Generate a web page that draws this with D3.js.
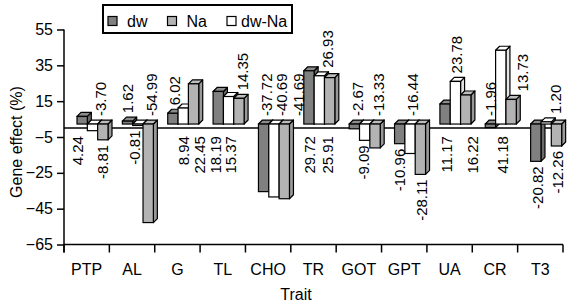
<!DOCTYPE html>
<html><head><meta charset="utf-8">
<script src="https://cdn.jsdelivr.net/npm/d3@7"></script>
<style>
html,body{margin:0;padding:0;background:#fff;}
svg text{font-family:"Liberation Sans",Arial,sans-serif;fill:#000;}
</style></head>
<body><svg id="chart" width="573" height="303"></svg>
<script>
// ---- data ----
const categories = ["PTP","AL","G","TL","CHO","TR","GOT","GPT","UA","CR","T3"];
const seriesNames = ["dw","dw-Na","Na"];
const dwValues   = [4.24, 1.62, 6.02, 18.19, -37.72, 29.72, -2.67, -10.96, 11.17, -1.96, -20.82];
const dwNaValues = [-3.70, -0.81, 8.94, 15.37, -40.69, 26.93, -9.09, -16.44, 23.78, 41.18, 1.20];
const naValues   = [-8.81, -54.99, 22.45, 14.35, -41.69, 25.91, -13.33, -28.11, 16.22, 13.73, -12.26];
const yTicks = [-65, -45, -25, -5, 15, 35, 55];
const yTitle = "Gene effect (%)";
const xTitle = "Trait";

// ---- layout / style config (not data) ----
const labelMode = [
  ["B","B","E"],["E","E","B"],["E","B","B"],["B","B","E"],["B","B","B"],["B","E","B"],
  ["B","E","B"],["E","B","E"],["B","E","B"],["B","B","E"],["E","E","E"]
];
const labelNudge = [
  [-5,8,0],[0,-3,3],[2,0,6.5],[-2.5,2.5,4],[3,8,14],[1,8,-2.5],
  [3.5,-1.5,4],[0,3,1.5],[2,1.5,7],[0,2,11],[2,9,1.5]
];
const colors = {
  "dw":    {front:"#808080", top:"#8c8c8c", side:"#6a6a6a"},
  "dw-Na": {front:"#ffffff", top:"#ffffff", side:"#e6e6e6"},
  "Na":    {front:"#b3b3b3", top:"#bdbdbd", side:"#999999"}
};

const seriesData = {"dw": dwValues, "dw-Na": dwNaValues, "Na": naValues};
const legendOrder = ["dw","Na","dw-Na"];

const svg = d3.select("#chart");
const pLeft = 64, pRight = 563, pTop = 29.5, pBottom = 244.5;
const depth = 4;

const y = d3.scaleLinear().domain([-65, 55]).range([pBottom, pTop]);
const x = d3.scaleBand().domain(categories).range([pLeft, pRight]);
const xs = d3.scaleBand().domain(seriesNames).range([13, 44]);

// zero (floor) line
svg.append("line").attr("x1", pLeft).attr("x2", pRight)
  .attr("y1", y(0)).attr("y2", y(0)).attr("stroke", "#000").attr("stroke-width", 1.5);

// bars
const g = svg.append("g");
categories.forEach((c, ci) => {
  seriesNames.forEach(s => {
    const v = seriesData[s][ci];
    const x0 = x(c) + xs(s), w = xs.bandwidth();
    const yT = Math.min(y(v), y(0)) - depth;
    const yB = Math.max(y(v), y(0)) - depth;
    const col = colors[s];
    const poly = pts => pts.map(p => p.join(",")).join(" ");
    g.append("polygon").attr("points", poly([[x0+w, yT],[x0+w+depth, yT-depth],[x0+w+depth, yB-depth],[x0+w, yB]]))
      .attr("fill", col.side).attr("stroke", "#000").attr("stroke-width", 1.2).attr("stroke-linejoin","round");
    g.append("polygon").attr("points", poly([[x0, yT],[x0+w, yT],[x0+w+depth, yT-depth],[x0+depth, yT-depth]]))
      .attr("fill", col.top).attr("stroke", "#000").attr("stroke-width", 1.2).attr("stroke-linejoin","round");
    g.append("rect").attr("x", x0).attr("y", yT).attr("width", w).attr("height", Math.max(yB - yT, 0.5))
      .attr("fill", col.front).attr("stroke", "#000").attr("stroke-width", 1.2);
  });
});

// data labels (rotated)
const lab = svg.append("g").attr("font-size", 15);
categories.forEach((c, ci) => {
  seriesNames.forEach((s, si) => {
    const v = seriesData[s][ci];
    const cx = x(c) + xs(s) + xs.bandwidth() / 2 + labelNudge[ci][si];
    const mode = labelMode[ci][si];
    let yy, anchor;
    if (mode === "E") {
      if (v >= 0) { yy = y(v) - depth - 8; anchor = "start"; }
      else { yy = y(v) - depth + 5; anchor = "end"; }
    } else {
      if (v >= 0) { yy = y(0) + 8; anchor = "end"; }
      else { yy = y(0) - 12; anchor = "start"; }
    }
    lab.append("text").attr("transform", `translate(${cx},${yy}) rotate(-90)`)
      .attr("text-anchor", anchor).attr("dy", "0.36em").text(v.toFixed(2));
  });
});

// y axis
const yAxis = d3.axisLeft(y).tickValues(yTicks).tickSize(7).tickSizeOuter(0).tickPadding(4).tickFormat(d3.format("d"));
const ya = svg.append("g").attr("transform", `translate(${pLeft},0)`).call(yAxis);
ya.select(".domain").attr("stroke-width", 1.5).attr("d", `M0,${pTop}V${pBottom + 8}`);
ya.selectAll(".tick line").attr("stroke-width", 1.5);
ya.selectAll("text").attr("font-size", 16).attr("font-family", null);

// x axis
const xAxis = d3.axisBottom(x).tickSize(0).tickPadding(19);
const xa = svg.append("g").attr("transform", `translate(0,${pBottom})`).call(xAxis);
xa.select(".domain").attr("stroke-width", 1.5).attr("d", `M${pLeft},0H${pRight}`);
xa.selectAll("text").attr("font-size", 16).attr("font-family", null);
const bounds = categories.map(c => x(c)).concat([x.range()[1]]);
xa.selectAll(".bnd").data(bounds).join("line").attr("class", "bnd")
  .attr("x1", d => d).attr("x2", d => d).attr("y1", 0).attr("y2", 8)
  .attr("stroke", "#000").attr("stroke-width", 1.5);

// axis titles
svg.append("text").attr("transform", `translate(22,142) rotate(-90)`)
  .attr("text-anchor", "middle").attr("font-size", 16).text(yTitle);
svg.append("text").attr("x", 296).attr("y", 300).attr("text-anchor", "middle")
  .attr("font-size", 16).text(xTitle);

// legend
const lg = svg.append("g");
lg.append("rect").attr("x", 103).attr("y", 5).attr("width", 189).attr("height", 28)
  .attr("fill", "#fff").attr("stroke", "#000").attr("stroke-width", 2);
const legX = d3.scalePoint().domain(legendOrder).range([108, 227]);
legendOrder.forEach(s => {
  lg.append("rect").attr("x", legX(s)).attr("y", 16.5).attr("width", 9).attr("height", 9)
    .attr("fill", colors[s].front).attr("stroke", "#000").attr("stroke-width", 1.2);
  lg.append("text").attr("x", legX(s) + (s === "dw-Na" ? 14 : 19)).attr("y", 26.5)
    .attr("font-size", 16).text(s);
});
</script></body></html>
